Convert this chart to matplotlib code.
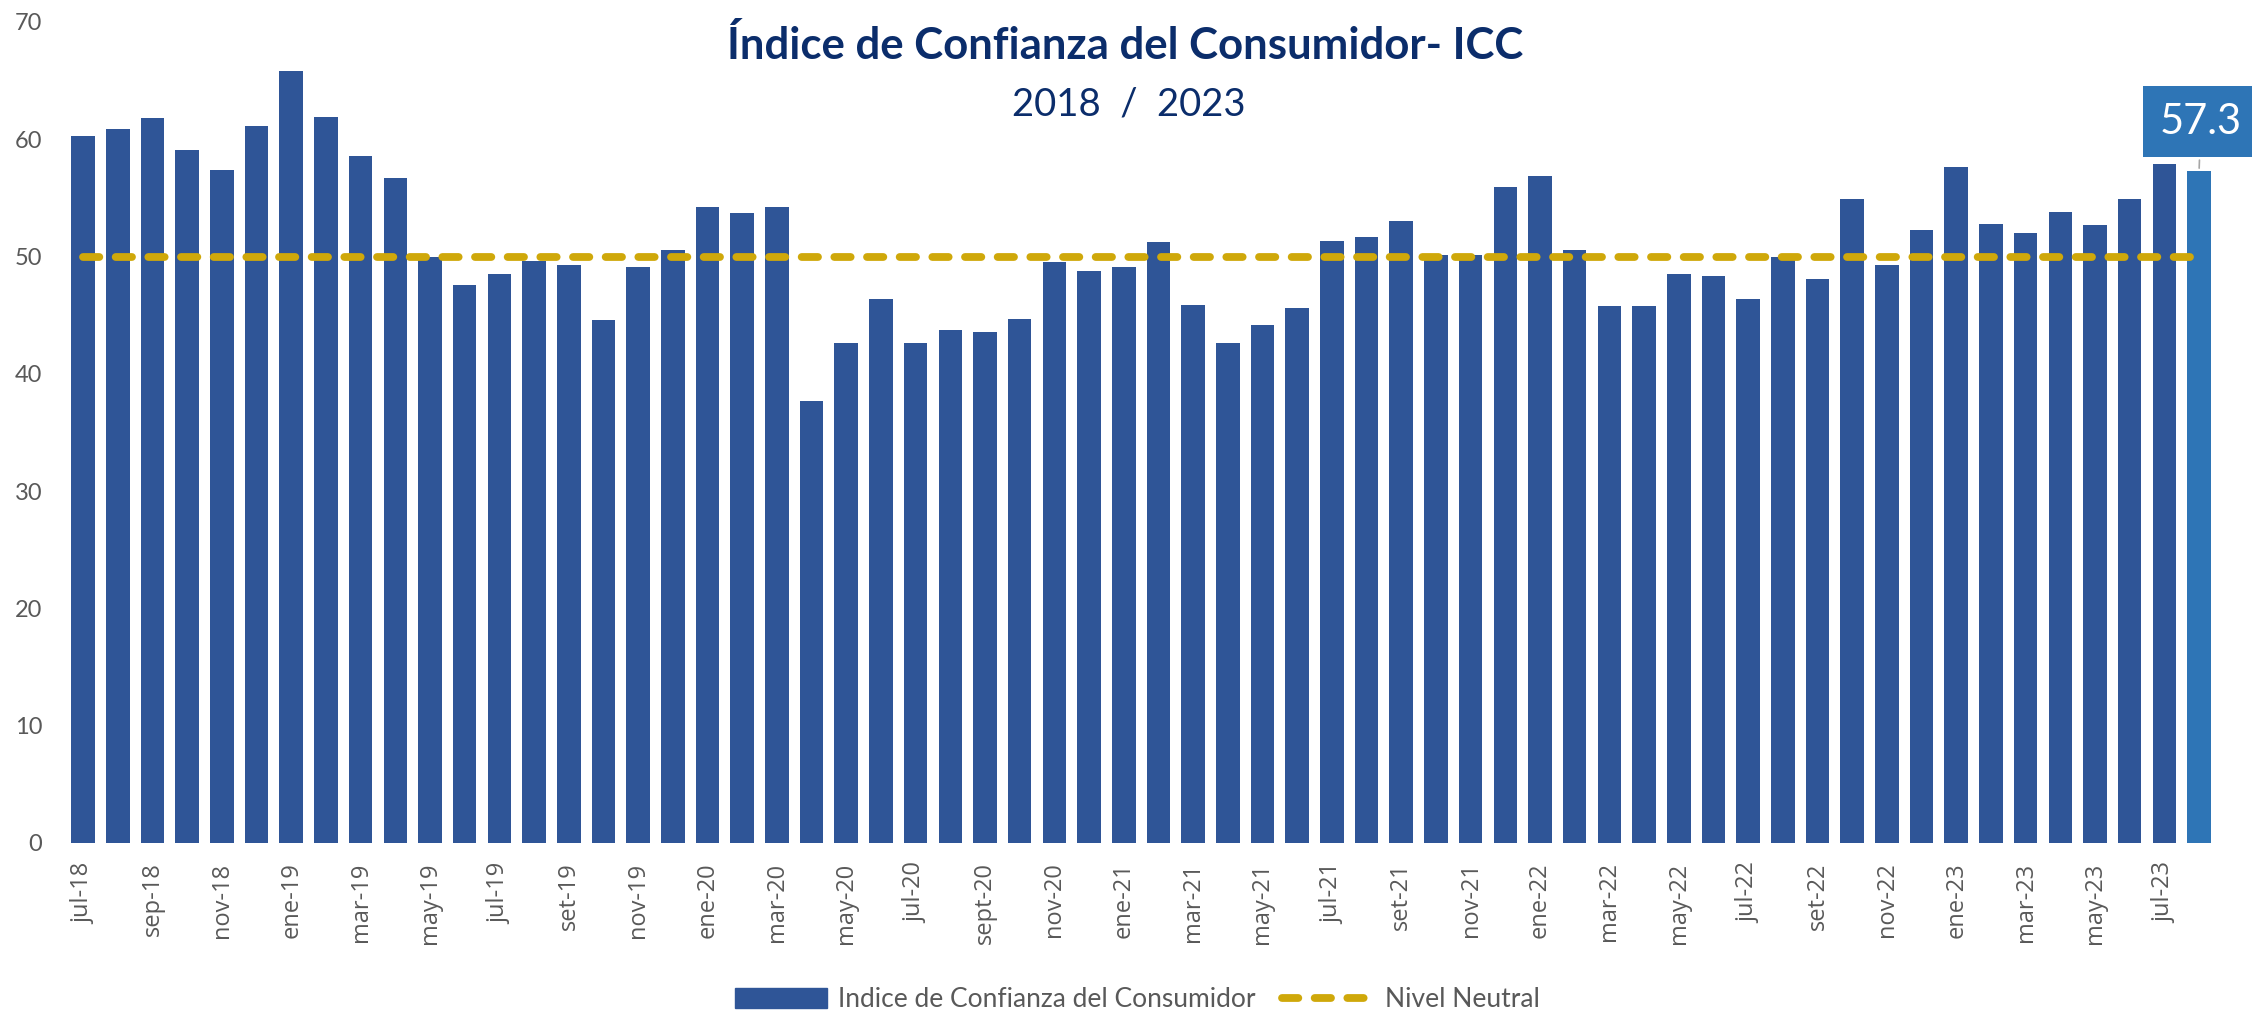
import matplotlib.pyplot as plt
from matplotlib.patches import Patch
from matplotlib.lines import Line2D

months = ['jul-18', 'ago-18', 'sep-18', 'oct-18', 'nov-18', 'dic-18',
          'ene-19', 'feb-19', 'mar-19', 'abr-19', 'may-19', 'jun-19',
          'jul-19', 'ago-19', 'set-19', 'oct-19', 'nov-19', 'dic-19',
          'ene-20', 'feb-20', 'mar-20', 'abr-20', 'may-20', 'jun-20',
          'jul-20', 'ago-20', 'sept-20', 'oct-20', 'nov-20', 'dic-20',
          'ene-21', 'feb-21', 'mar-21', 'abr-21', 'may-21', 'jun-21',
          'jul-21', 'ago-21', 'set-21', 'oct-21', 'nov-21', 'dic-21',
          'ene-22', 'feb-22', 'mar-22', 'abr-22', 'may-22', 'jun-22',
          'jul-22', 'ago-22', 'set-22', 'oct-22', 'nov-22', 'dic-22',
          'ene-23', 'feb-23', 'mar-23', 'abr-23', 'may-23', 'jun-23',
          'jul-23', 'ago-23']

icc = [60.3, 60.9, 61.8, 59.1, 57.4, 61.1,
       65.8, 61.9, 58.6, 56.7, 50.0, 47.6,
       48.5, 49.6, 49.3, 44.6, 49.1, 50.6,
       54.2, 53.7, 54.2, 37.7, 42.6, 46.4,
       42.6, 43.7, 43.6, 44.7, 49.5, 48.8,
       49.1, 51.2, 45.9, 42.6, 44.2, 45.6,
       51.3, 51.7, 53.0, 50.1, 50.1, 55.9,
       56.9, 50.6, 45.8, 45.8, 48.5, 48.3,
       46.4, 50.0, 48.1, 54.9, 49.3, 52.3,
       57.6, 52.8, 52.0, 53.8, 52.7, 54.9,
       57.9, 57.3]

neutral = 50

navy = '#0B2D6B'
bar_color = '#2F5597'
last_color = '#2E75B6'
gold = '#CFA80A'
gray = '#595959'
lato = 'Lato'

fig = plt.figure(figsize=(22.52, 10.17), dpi=100)
ax = fig.add_axes([0.0292, 0.1711, 0.955, 0.8073])

x = list(range(len(months)))
colors = [bar_color] * (len(x) - 1) + [last_color]
ax.bar(x, icc, width=0.68, color=colors, zorder=2)

ax.plot(x, [neutral] * len(x), color=gold, linewidth=5.6,
        dashes=(2.1, 2.1), dash_capstyle='round', zorder=3)

# etiqueta del ultimo dato
ax.annotate(f'{icc[-1]:.1f}', xy=(x[-1], icc[-1]), xytext=(x[-1] + 0.05, 61.5),
            ha='center', va='center', color='white', fontsize=30, family=lato,
            bbox=dict(boxstyle='square,pad=0.4', fc=last_color, ec='none'),
            arrowprops=dict(arrowstyle='-', color='#A6A6A6', lw=1.2),
            annotation_clip=False, zorder=5)

ax.set_xlim(-0.5, len(x) - 0.5)
ax.set_ylim(0, 70)
ax.set_yticks(range(0, 71, 10))
ax.set_xticks(x[::2])
ax.set_xticklabels(months[::2], rotation=90)
ax.tick_params(axis='y', length=0, labelsize=17, labelcolor=gray, pad=17)
ax.tick_params(axis='x', length=0, pad=14, labelsize=17, labelcolor=gray)
for lbl in ax.get_yticklabels():
    lbl.set_family(lato)
for lbl in ax.get_xticklabels():
    lbl.set_family('Open Sans')
for s in ax.spines.values():
    s.set_visible(False)

fig.text(0.4995, 0.955, 'Índice de Confianza del Consumidor- ICC', ha='center',
         va='center', fontsize=31.5, fontweight='bold', color=navy, family=lato)
fig.text(0.5013, 0.897, '2018  /  2023', ha='center', va='center',
         fontsize=27.5, color=navy, family=lato)

handles = [Patch(color=bar_color),
           Line2D([0], [0], color=gold, linewidth=5.6, dashes=(2.1, 2.1),
                  dash_capstyle='round')]
fig.legend(handles, ['Indice de Confianza del Consumidor', 'Nivel Neutral'],
           loc='center', bbox_to_anchor=(0.505, 0.017), ncol=2, frameon=False,
           handlelength=3.5, handleheight=0.8, handletextpad=0.4,
           columnspacing=1.0, prop={'family': lato, 'size': 19},
           labelcolor=gray)

fig.savefig('out.png', dpi=100)
